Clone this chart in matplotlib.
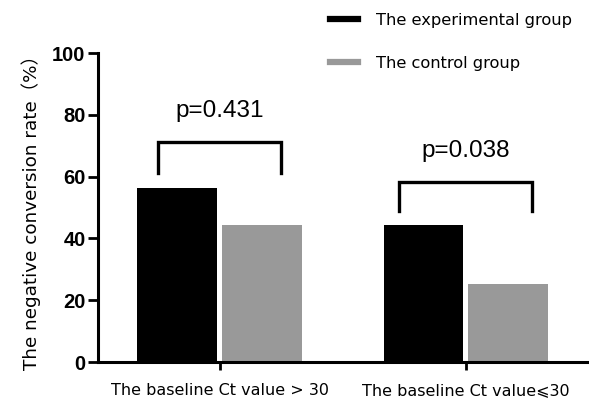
import numpy as np
import matplotlib.pyplot as plt
from matplotlib.lines import Line2D

plt.rcParams["font.family"] = ["DejaVu Sans", "Noto Sans CJK SC"]

categories = ["The baseline Ct value > 30", "The baseline Ct value\u2a7d30"]
groups = ["The experimental group", "The control group"]
experimental = [56.4, 44.2]
control = [44.3, 25.2]
p_values = ["p=0.431", "p=0.038"]
bracket_top = [71.2, 58.3]
bracket_leg = [61.2, 48.9]

COLORS = ["#000000", "#999999"]


def main():
    fig = plt.figure(figsize=(5.89, 4.05), dpi=100)
    ax = fig.add_axes([0.1664, 0.106, 0.8336, 0.763])

    x = np.arange(len(categories))
    w = 0.324
    off = 0.172
    ax.bar(x - off, experimental, w, color=COLORS[0], zorder=2)
    ax.bar(x + off, control, w, color=COLORS[1], zorder=2)

    # significance brackets
    half = [0.25, 0.27]
    for i in range(len(categories)):
        xl, xr = x[i] - half[i], x[i] + half[i]
        ax.plot([xl, xl, xr, xr], [bracket_leg[i], bracket_top[i], bracket_top[i], bracket_leg[i]],
                color="black", lw=2.4, solid_joinstyle="miter", clip_on=False)
        ax.text(x[i], bracket_top[i] + 6.5, p_values[i], ha="center", va="bottom",
                fontsize=17.5, family="Liberation Sans")

    ax.set_xlim(-0.494, 1.5)
    ax.set_ylim(0, 100)
    ax.set_yticks(np.arange(0, 101, 20))
    for lbl in ax.get_yticklabels():
        lbl.set_fontweight("bold")
        lbl.set_family("Liberation Sans")
        lbl.set_fontsize(14.5)
    ax.set_xticks(x)
    ax.set_xticklabels(categories, fontsize=11.5)
    ax.tick_params(axis="y", length=7, width=2, pad=2)
    ax.tick_params(axis="x", length=6, width=2, pad=9)
    for s in ["top", "right"]:
        ax.spines[s].set_visible(False)
    for s in ["left", "bottom"]:
        ax.spines[s].set_linewidth(2.2)

    ax.set_ylabel("The negative conversion rate\uff08%\uff09", fontsize=13.2, labelpad=8)

    handles = [Line2D([], [], color=c, lw=4.5) for c in COLORS]
    fig.legend(handles, groups, loc="upper left", bbox_to_anchor=(0.535, 1.005),
               frameon=False, fontsize=11.7, handlelength=1.75, handletextpad=1.1,
               labelspacing=1.75)

    fig.savefig("out.png", dpi=100)
    plt.close(fig)


if __name__ == "__main__":
    main()
